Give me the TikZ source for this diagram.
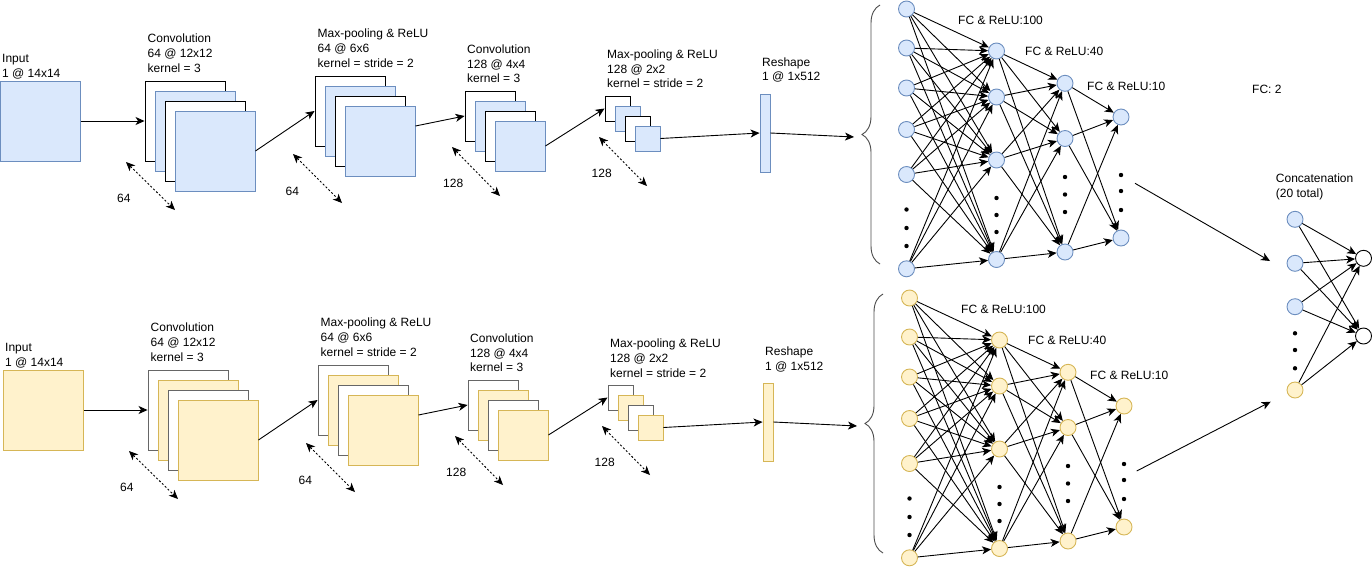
\documentclass[tikz,border=0pt]{standalone}
\usepackage{fontspec}
\setmainfont{Liberation Sans}
\usetikzlibrary{arrows.meta,decorations.pathreplacing}

\definecolor{blueFill}{HTML}{DAE8FC}
\definecolor{blueLine}{HTML}{6C8EBF}
\definecolor{yellowFill}{HTML}{FFF2CC}
\definecolor{yellowLine}{HTML}{D6B656}
\definecolor{frameGray}{HTML}{666666}

% \lc, \fc and \wc are set per branch in the loop below
\tikzset{
  arr/.style={-{Stealth[length=9pt,width=8pt,inset=2.5pt]}, line width=0.9pt},
  depth/.style={{Stealth[length=9pt,width=8pt,inset=2.5pt]}-{Stealth[length=9pt,width=8pt,inset=2.5pt]}, line width=0.9pt, dash pattern=on 2pt off 2pt},
  lbl/.style={anchor=north west, inner sep=0pt, align=left, font=\fontsize{12}{14.7}\selectfont},
  sheet/.style={line width=0.9pt, inner sep=0pt, minimum size=#1},
  map/.style={sheet=#1, draw=\lc, fill=\fc},
  frame/.style={sheet=#1, draw=\wc, fill=white},
  cell/.style={circle, line width=0.9pt, inner sep=0pt, minimum size=16pt},
  unit/.style={cell, draw=\lc, fill=\fc},
  curly/.style={decorate, decoration={brace, amplitude=18pt}, draw=black!70, line width=0.9pt},
}

\begin{document}
\begin{tikzpicture}[x=1pt,y=-1pt]
		\useasboundingbox (0,0) rectangle (1372,568);

		% the two branches: blue on top, yellow below
		\foreach \br/\dx/\dy/\ex/\fc/\lc/\wc in {t/0/0/0/blueFill/blueLine/black, b/3/289/10/yellowFill/yellowLine/frameGray}{
		\begin{scope}[shift={(\dx,\dy)}]

		\node[map=80pt] (\br-in) at (40.5,121) {};
		\node[lbl] (\br-inl) at (2,54) {Input\\1 @ 14x14};

		\node[frame=80pt] (\br-c1a) at (185,121) {};
		\node[map=80pt] (\br-c1b) at (195,131) {};
		\node[frame=80pt] (\br-c1c) at (205,141) {};
		\node[map=80pt] (\br-c1d) at (215,151) {};
		\node[lbl] (\br-c1l) at (147.5,34) {Convolution\\64 @ 12x12\\kernel = 3};

		\node[frame=70pt] (\br-p1a) at (350,111) {};
		\node[map=70pt] (\br-p1b) at (360,121) {};
		\node[frame=70pt] (\br-p1c) at (370,131) {};
		\node[map=70pt] (\br-p1d) at (380,141) {};
		\node[lbl] (\br-p1l) at (317.5,29) {Max-pooling \& ReLU\\64 @ 6x6\\kernel = stride = 2};

		\node[frame=50pt] (\br-c2a) at (490,116) {};
		\node[map=50pt] (\br-c2b) at (500,126) {};
		\node[frame=50pt] (\br-c2c) at (510,136) {};
		\node[map=50pt] (\br-c2d) at (520,146) {};
		\node[lbl] (\br-c2l) at (467,44.5) {Convolution\\128 @ 4x4\\kernel = 3};

		\node[frame=25pt] (\br-p2a) at (617.5,108.5) {};
		\node[map=25pt] (\br-p2b) at (627.5,118.5) {};
		\node[frame=25pt] (\br-p2c) at (637.5,128.5) {};
		\node[map=25pt] (\br-p2d) at (647.5,138.5) {};
		\node[lbl] (\br-p2l) at (607,49.7) {Max-pooling \& ReLU\\128 @ 2x2\\kernel = stride = 2};

		\node[map=0pt, minimum width=10pt, minimum height=78pt] (\br-rs) at (765,133) {};
		\node[lbl] (\br-rsl) at (762,57.4) {Reshape\\1 @ 1x512};

		\coordinate (\br-tip) at (854,137);
		\draw[arr] (\br-in.east) -- (\br-c1a.west);
		\draw[arr] (\br-c1d.east) -- (\br-p1a.west);
		\draw[arr] ([yshift=15pt]\br-p1d.east) -- (\br-c2a.west);
		\draw[arr] (\br-c2d.east) -- (\br-p2a.west);
		\draw[arr] (\br-p2d.east) -- (\br-rs.west);
		\draw[arr] (\br-rs.east) -- (\br-tip);

		% depth marks
		\draw[depth] (126,162) -- (175,210);
		\draw[depth] (293+\ex,154) -- (342+\ex,203);
		\draw[depth] (452,147) -- (500,196);
		\draw[depth] (599,137) -- (647,186);
		\node[lbl] (\br-d1) at (117,194) {64};
		\node[lbl] (\br-d2) at (285.5+\ex,187.4) {64};
		\node[lbl] (\br-d3) at (443,179) {128};
		\node[lbl] (\br-d4) at (591.5,169.4) {128};

		% fully connected part
		\draw[curly] (880,264) -- (880,5);
		\foreach \y [count=\i] in {9,48,88,129.5,174.5,268.8}
			\node[unit] (\br-a\i) at (906.5,\y) {};
		\foreach \y [count=\i] in {51,97,160,259.5}
			\node[unit] (\br-b\i) at (996.5,\y) {};
		\foreach \y [count=\i] in {83.3,138.5,252}
			\node[unit] (\br-c\i) at (1065,\y) {};
		\foreach \y [count=\i] in {117,238}
			\node[unit] (\br-e\i) at (1121,\y) {};

		\foreach \y in {209.5,228,246} \fill (906.5,\y) circle (2.2pt);
		\foreach \y in {198,215,232} \fill (996.5,\y) circle (2.2pt);
		\foreach \y in {177,194.5,212} \fill (1065,\y) circle (2.2pt);
		\foreach \y in {175,191,210} \fill (1121,\y) circle (2.2pt);

		\foreach \i in {1,...,6}
			\foreach \j in {1,...,4}
				\draw[arr] (\br-a\i) -- (\br-b\j);
		\foreach \i in {1,...,4}
			\foreach \j in {1,...,3}
				\draw[arr] (\br-b\i) -- (\br-c\j);
		\foreach \i in {1,...,3}
			\foreach \j in {1,2}
				\draw[arr] (\br-c\i) -- (\br-e\j);

		\node[lbl] (\br-f1) at (958,16.4) {FC \& ReLU:100};
		\node[lbl] (\br-f2) at (1025,47.4) {FC \& ReLU:40};
		\node[lbl] (\br-f3) at (1087,82.4) {FC \& ReLU:10};
		\end{scope}
		}

		% concatenation and output
		\node[cell, draw=blueLine, fill=blueFill] (cat1) at (1295,219.3) {};
		\node[cell, draw=blueLine, fill=blueFill] (cat2) at (1295,263.3) {};
		\node[cell, draw=blueLine, fill=blueFill] (cat3) at (1295,306.7) {};
		\node[cell, draw=yellowLine, fill=yellowFill] (cat4) at (1295,390) {};
		\foreach \y in {333.3,350,368.3} \fill (1295,\y) circle (2.2pt);
		\node[cell, draw=black, fill=white] (out1) at (1363.5,258.3) {};
		\node[cell, draw=black, fill=white] (out2) at (1363.5,336) {};
		\foreach \i in {1,...,4}
			\foreach \j in {1,2}
				\draw[arr] (cat\i) -- (out\j);

		\coordinate (tsrc) at (1135,183.3);
		\coordinate (tdst) at (1270,261);
		\coordinate (bsrc) at (1136.7,471);
		\coordinate (bdst) at (1270.7,401.7);
		\draw[arr] (tsrc) -- (tdst);
		\draw[arr] (bsrc) -- (bdst);

		\node[lbl] (catl) at (1275.7,174) {Concatenation\\(20 total)};
		\node[lbl] (fc2l) at (1252,84.7) {FC: 2};

\end{tikzpicture}
\end{document}
